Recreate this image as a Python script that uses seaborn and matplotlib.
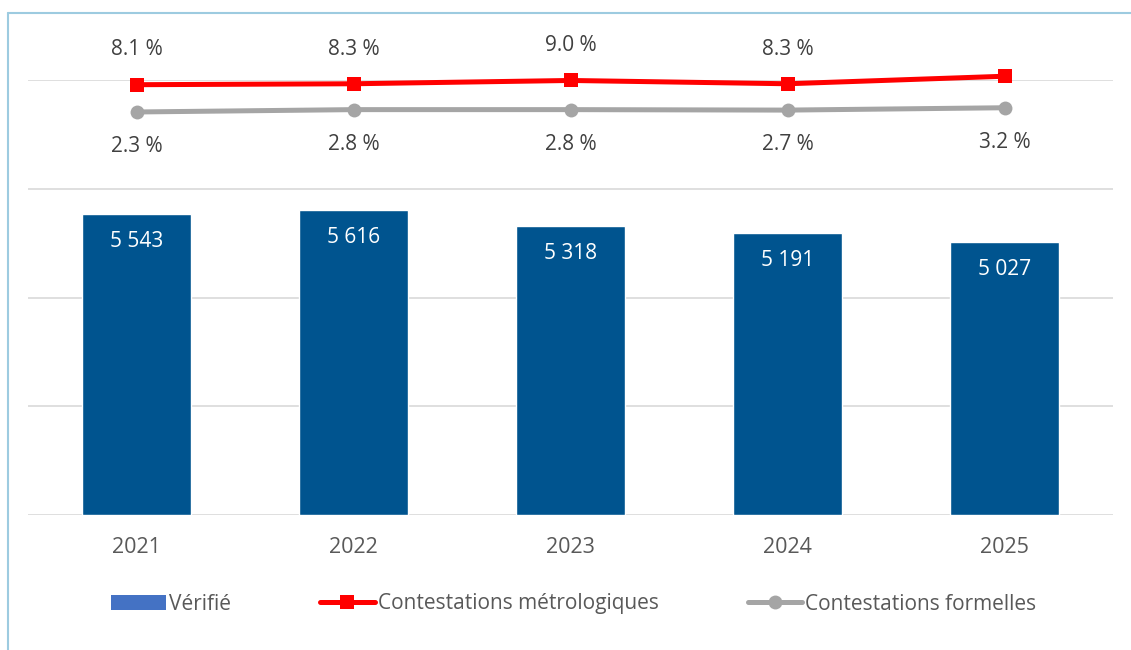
import matplotlib
matplotlib.use("Agg")
import matplotlib.pyplot as plt
import numpy as np
import pandas as pd
import seaborn as sns
from matplotlib.lines import Line2D
from matplotlib.patches import Patch

years = ["2021", "2022", "2023", "2024", "2025"]
verifie = [5543, 5616, 5318, 5191, 5027]
contest_metro = [8.1, 8.3, 9.0, 8.3, 9.9]
contest_form = [2.3, 2.8, 2.8, 2.7, 3.2]

bar_labels = ["5 543", "5 616", "5 318", "5 191", "5 027"]
metro_labels = ["8.1 %", "8.3 %", "9.0 %", "8.3 %", "9.9 %"]
form_labels = ["2.3 %", "2.8 %", "2.8 %", "2.7 %", "3.2 %"]

BAR_COLOR = "#00548F"
LEG_BAR = "#4472C4"
RED = "#FF0000"
GRAY = "#A5A5A5"
TXT = "#404040"
TICK = "#595959"
GRID = "#D9D9D9"
FS = 15

sns.set_theme(style="white")
plt.rcParams["font.family"] = ["Open Sans", "DejaVu Sans"]

W, H = 1131, 650
fig = plt.figure(figsize=(W / 100, H / 100), dpi=100)
ax = fig.add_axes([28 / W, (H - 515) / H, 1085 / W, 435 / H])

df = pd.DataFrame({"year": years, "verifie": verifie})
sns.barplot(data=df, x="year", y="verifie", color=BAR_COLOR, width=0.5,
            saturation=1, ax=ax, zorder=2)
ax.set_xlim(-0.5, 4.5)
ax.set_ylim(0, 8000)
ax.set_yticks([0, 2000, 4000, 6000, 8000])
ax.yaxis.grid(True, color=GRID, lw=1.2)
ax.set_axisbelow(True)
for s in ax.spines.values():
    s.set_visible(False)
ax.set_xlabel("")
ax.set_ylabel("")
ax.set_yticklabels([])
ax.tick_params(axis="y", length=0)
ax.tick_params(axis="x", length=0, pad=16, labelsize=FS + 0.5, labelcolor=TICK)

for i, (v, lab) in enumerate(zip(verifie, bar_labels)):
    ax.annotate(lab, (i, v), xytext=(0, -20), textcoords="offset points",
                ha="center", va="center", color="white", fontsize=FS)

ax2 = ax.twinx()
ax2.set_ylim(-83.4, 9.1)
ax2.axis("off")
xpos = np.arange(len(years))
sns.lineplot(x=xpos, y=contest_form, color=GRAY, lw=3.6, marker="o",
             markersize=10, markeredgewidth=0, ax=ax2, clip_on=False, zorder=3)
sns.lineplot(x=xpos, y=contest_metro, color=RED, lw=3.6, marker="s",
             markersize=10.5, markeredgewidth=0, ax=ax2, clip_on=False, zorder=4)
ax2.set_xlim(-0.5, 4.5)

for i, (v, lab) in enumerate(zip(contest_metro, metro_labels)):
    ax2.annotate(lab, (i, v), xytext=(0, 25), textcoords="offset points",
                 ha="center", va="center", color=TXT, fontsize=FS)
for i, (v, lab) in enumerate(zip(contest_form, form_labels)):
    ax2.annotate(lab, (i, v), xytext=(0, -25), textcoords="offset points",
                 ha="center", va="center", color=TXT, fontsize=FS)

handles = [
    Patch(facecolor=LEG_BAR, edgecolor="none"),
    Line2D([], [], color=RED, lw=3.6, marker="s", markersize=10.5, markeredgewidth=0),
    Line2D([], [], color=GRAY, lw=3.6, marker="o", markersize=10, markeredgewidth=0),
]
labels = ["Vérifié", "Contestations métrologiques", "Contestations formelles"]
leg = fig.legend(handles, labels, loc="center", bbox_to_anchor=(574 / W, (H - 604) / H),
                 ncol=3, frameon=False, fontsize=FS, handlelength=2.6,
                 handletextpad=0.15, columnspacing=4.3, handleheight=0.7)
for t in leg.get_texts():
    t.set_color(TICK)

# light blue frame (left and top edges)
BORDER = "#9DCBE0"
fig.add_artist(Line2D([7.5 / W, 7.5 / W], [0, (H - 13) / H], color=BORDER, lw=1.5,
                      transform=fig.transFigure))
fig.add_artist(Line2D([7.5 / W, 1], [(H - 13) / H, (H - 13) / H], color=BORDER, lw=1.5,
                      transform=fig.transFigure))

fig.savefig("out.png", dpi=100)
